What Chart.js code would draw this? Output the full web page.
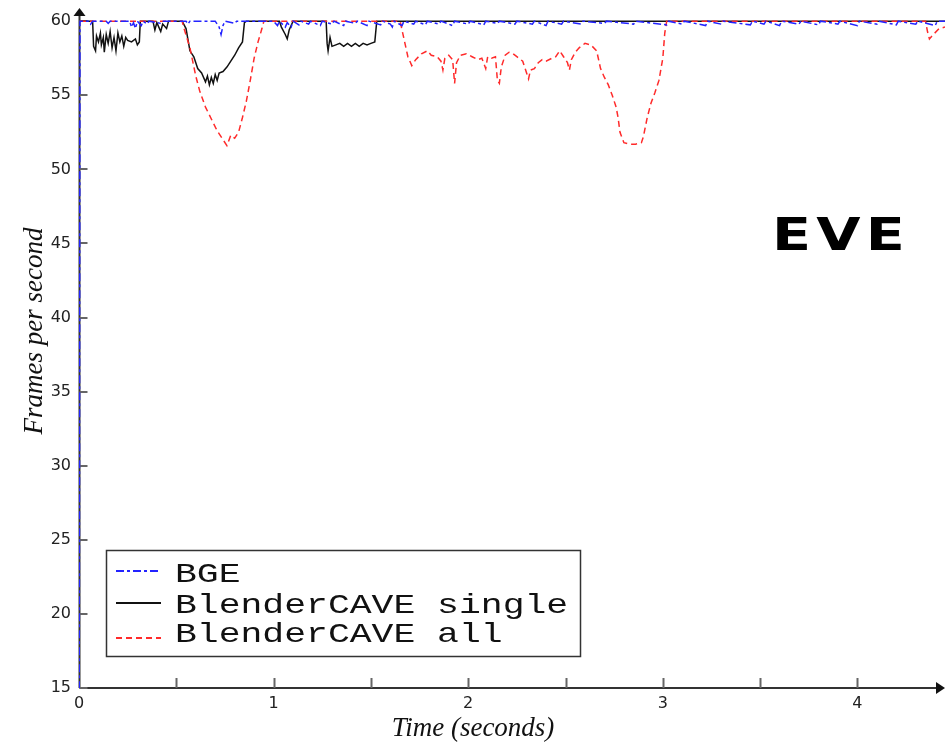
<!DOCTYPE html>
<html>
<head>
<meta charset="utf-8">
<script src="https://cdn.jsdelivr.net/npm/chart.js@4"></script>
<style>
  html, body { margin: 0; padding: 0; background: #fff; }
  #wrap { position: relative; width: 945px; height: 744px; }
</style>
</head>
<body>
<div id="wrap"><canvas id="myChart" width="945" height="744"></canvas></div>
<script>
// Frame rate over time, [seconds, fps]
const bgeData = [
  [0, 0], [0.005, 60], [0.05, 60], [0.06, 59.8], [0.07, 60], [0.14, 60], [0.15, 59.85], [0.16, 60],
  [0.26, 60], [0.27, 59.6], [0.28, 59.9], [0.29, 59.5], [0.30, 60], [0.32, 59.7], [0.33, 60],
  [0.35, 59.8], [0.36, 60], [0.42, 59.85], [0.43, 60], [0.55, 60], [0.56, 59.8], [0.57, 60],
  [0.70, 60], [0.72, 59.6], [0.73, 59.1], [0.74, 59.7], [0.75, 60], [0.80, 59.85], [0.81, 60],
  [1.00, 60], [1.02, 59.7], [1.03, 60], [1.06, 59.6], [1.07, 59.9], [1.09, 59.6], [1.10, 60],
  [1.13, 59.75], [1.14, 60], [1.18, 59.8], [1.19, 60], [1.24, 59.7], [1.25, 60], [1.30, 59.8],
  [1.31, 60], [1.36, 59.7], [1.37, 60], [1.42, 59.85], [1.43, 60], [1.48, 59.7], [1.49, 60],
  [1.55, 59.75], [1.56, 60], [1.60, 59.8], [1.61, 59.6], [1.62, 60], [1.66, 59.7], [1.67, 60],
  [1.72, 59.8], [1.73, 60], [1.78, 59.75], [1.79, 60], [1.85, 59.8], [1.86, 60], [1.92, 59.7],
  [1.93, 60], [2.00, 59.8], [2.01, 60], [2.08, 59.75], [2.09, 60], [2.15, 59.85], [2.16, 60],
  [2.24, 59.8], [2.25, 60], [2.33, 59.8], [2.34, 60], [2.40, 59.7], [2.41, 60], [2.48, 59.8],
  [2.49, 60], [2.58, 59.8], [2.59, 60], [2.70, 59.85], [2.71, 60], [2.85, 59.8], [2.86, 60],
  [3.02, 59.75], [3.03, 60], [3.10, 59.8], [3.11, 60], [3.22, 59.7], [3.23, 60], [3.30, 59.8],
  [3.31, 60], [3.45, 59.75], [3.46, 60], [3.52, 59.8], [3.53, 60], [3.60, 59.7], [3.61, 60],
  [3.70, 59.8], [3.71, 60], [3.80, 59.75], [3.81, 60], [3.90, 59.8], [3.91, 60], [4.00, 59.7],
  [4.01, 60], [4.10, 59.8], [4.11, 60], [4.20, 59.75], [4.21, 60], [4.30, 59.8], [4.31, 60],
  [4.40, 59.7], [4.41, 60], [4.45, 60]
];

const singleData = [
  [0.005, 60], [0.07, 60], [0.075, 58.3], [0.085, 58.0], [0.09, 59.0], [0.10, 58.6],
  [0.11, 59.2], [0.115, 58.4], [0.125, 58.9], [0.13, 57.9], [0.14, 59.1], [0.15, 58.5],
  [0.16, 59.3], [0.17, 58.2], [0.18, 58.9], [0.19, 58.0], [0.20, 59.2], [0.21, 58.6],
  [0.22, 59.0], [0.23, 58.3], [0.24, 58.9], [0.25, 58.7], [0.27, 58.6], [0.29, 58.8],
  [0.30, 58.4], [0.31, 58.6], [0.315, 60], [0.38, 60], [0.39, 59.4], [0.40, 59.9], [0.42, 59.3],
  [0.43, 59.8], [0.45, 59.5], [0.46, 60], [0.53, 60], [0.55, 59.5], [0.57, 58.0], [0.59, 57.6],
  [0.61, 56.8], [0.63, 56.5], [0.65, 55.9], [0.66, 56.3], [0.67, 55.7], [0.68, 56.2],
  [0.69, 55.8], [0.70, 56.4], [0.71, 56.0], [0.72, 56.5], [0.74, 56.6], [0.76, 56.9],
  [0.78, 57.3], [0.80, 57.7], [0.82, 58.2], [0.84, 58.6], [0.85, 59.9], [0.86, 60],
  [1.03, 60], [1.04, 59.6], [1.06, 59.1], [1.07, 58.8], [1.08, 59.4], [1.10, 60],
  [1.27, 60], [1.275, 58.5], [1.28, 58.0], [1.29, 58.9], [1.30, 58.3], [1.32, 58.4],
  [1.34, 58.5], [1.36, 58.3], [1.38, 58.5], [1.40, 58.3], [1.42, 58.5], [1.44, 58.3],
  [1.46, 58.5], [1.48, 58.4], [1.50, 58.5], [1.52, 58.6], [1.53, 60], [4.45, 60]
];

const allData = [
  [0.005, 60], [0.53, 60], [0.54, 59.5], [0.57, 58.2], [0.60, 56.3], [0.62, 55.3],
  [0.65, 54.2], [0.68, 53.4], [0.71, 52.6], [0.74, 52.0], [0.76, 51.6], [0.78, 52.3],
  [0.80, 52.1], [0.82, 52.5], [0.84, 53.5], [0.86, 54.6], [0.88, 56.0], [0.90, 57.5],
  [0.92, 58.6], [0.94, 59.5], [0.95, 60], [1.65, 60], [1.67, 58.8], [1.69, 57.6], [1.71, 57.0],
  [1.73, 57.4], [1.76, 57.8], [1.79, 58.0], [1.81, 57.7], [1.84, 57.6], [1.86, 57.3],
  [1.87, 56.7], [1.88, 57.5], [1.90, 57.7], [1.92, 57.4], [1.93, 55.8], [1.94, 57.2],
  [1.96, 57.7], [1.99, 57.8], [2.02, 57.6], [2.05, 57.4], [2.07, 57.5], [2.09, 56.8],
  [2.10, 57.6], [2.12, 57.5], [2.14, 57.6], [2.15, 56.0], [2.16, 55.8], [2.17, 56.9],
  [2.19, 57.7], [2.21, 57.9], [2.23, 57.8], [2.25, 57.6], [2.28, 57.3], [2.30, 56.5],
  [2.31, 56.1], [2.32, 56.7], [2.34, 56.8], [2.36, 57.2], [2.38, 57.4], [2.40, 57.3],
  [2.43, 57.5], [2.45, 57.6], [2.47, 58.0], [2.49, 57.6], [2.51, 57.2], [2.52, 56.7],
  [2.53, 57.4], [2.55, 57.9], [2.57, 58.2], [2.60, 58.5], [2.63, 58.4], [2.66, 58.0],
  [2.68, 56.8], [2.70, 56.2], [2.72, 55.7], [2.74, 55.0], [2.76, 54.2], [2.77, 53.5],
  [2.78, 52.5], [2.80, 51.8], [2.83, 51.7], [2.86, 51.7], [2.89, 51.8], [2.90, 52.2],
  [2.92, 53.5], [2.94, 54.5], [2.96, 55.2], [2.98, 56.0], [3.00, 57.5], [3.01, 59.2],
  [3.02, 60], [4.35, 60], [4.36, 59.3], [4.37, 58.8], [4.39, 59.1], [4.42, 59.5], [4.45, 59.6]
];

const seriesLabels = ['BGE', 'BlenderCAVE single', 'BlenderCAVE all'];
const xTicks = [0, 0.5, 1, 1.5, 2, 2.5, 3, 3.5, 4];
const yTicks = [15, 20, 25, 30, 35, 40, 45, 50, 55, 60];

function toPoints(arr) {
  return arr.map(p => ({ x: p[0], y: p[1] }));
}

// axes with inward ticks and arrow heads, drawn under the lines
const axesPlugin = {
  id: 'axes',
  beforeDatasetsDraw(chart) {
    const ctx = chart.ctx;
    const ca = chart.chartArea;
    const xs = chart.scales.x;
    const ys = chart.scales.y;
    const ax = ca.left + 0.5;
    const ay = ca.bottom;
    ctx.save();
    ctx.strokeStyle = '#333';
    ctx.fillStyle = '#111';
    ctx.lineWidth = 2;
    ctx.beginPath();
    ctx.moveTo(ax, ay);
    ctx.lineTo(ax, 14);
    ctx.moveTo(ax, ay);
    ctx.lineTo(938, ay);
    ctx.stroke();
    ctx.beginPath();
    ctx.moveTo(ax, 8);
    ctx.lineTo(ax - 6, 16);
    ctx.lineTo(ax + 6, 16);
    ctx.closePath();
    ctx.fill();
    ctx.beginPath();
    ctx.moveTo(945, ay);
    ctx.lineTo(936, ay - 6);
    ctx.lineTo(936, ay + 6);
    ctx.closePath();
    ctx.fill();
    ctx.strokeStyle = '#666';
    ctx.beginPath();
    xTicks.forEach(v => {
      const px = Math.round(xs.getPixelForValue(v)) + 0.5;
      if (v > 0) { ctx.moveTo(px, ay); ctx.lineTo(px, ay - 10); }
    });
    yTicks.forEach(v => {
      const py = Math.round(ys.getPixelForValue(v));
      ctx.moveTo(ax, py); ctx.lineTo(ax + 8, py);
    });
    ctx.stroke();
    ctx.restore();
  },
  afterDraw(chart) {
    const ctx = chart.ctx;
    ctx.save();
    // axis titles
    ctx.fillStyle = '#111';
    ctx.font = 'italic 27px "Liberation Serif"';
    ctx.textAlign = 'center';
    ctx.textBaseline = 'alphabetic';
    ctx.fillText('Time (seconds)', 473, 736);
    ctx.translate(42, 331);
    ctx.rotate(-Math.PI / 2);
    ctx.fillText('Frames per second', 0, 0);
    ctx.restore();

    // EVE label
    ctx.save();
    ctx.fillStyle = '#000';
    ctx.font = 'bold 44px "DejaVu Sans"';
    ctx.translate(772, 250);
    ctx.scale(1.3, 1);
    ctx.letterSpacing = '4px';
    ctx.fillText('EVE', 0, 0);
    ctx.restore();

    // legend box
    ctx.save();
    ctx.fillStyle = '#fff';
    ctx.fillRect(106, 550, 475, 107);
    ctx.strokeStyle = '#333';
    ctx.lineWidth = 1.5;
    ctx.strokeRect(106.5, 550.5, 474, 106);
    const rowsLine = [571, 603, 638];
    const rowsText = [582, 613, 642];
    chart.data.datasets.forEach((ds, i) => {
      ctx.strokeStyle = ds.borderColor;
      ctx.lineWidth = 2.2;
      ctx.setLineDash(ds.borderDash || []);
      ctx.beginPath();
      ctx.moveTo(116, rowsLine[i]);
      ctx.lineTo(161, rowsLine[i]);
      ctx.stroke();
      ctx.setLineDash([]);
      ctx.save();
      ctx.fillStyle = '#111';
      ctx.font = '28px "Liberation Mono"';
      ctx.translate(175, rowsText[i]);
      ctx.scale(1.3, 1);
      ctx.fillText(ds.label, 0, 0);
      ctx.restore();
    });
    ctx.restore();
  }
};

const ctx = document.getElementById('myChart').getContext('2d');
const myChart = new Chart(ctx, {
  type: 'line',
  data: {
    datasets: [
      {
        label: seriesLabels[0],
        data: toPoints(bgeData),
        borderColor: '#2323ff',
        borderDash: [8, 3, 3, 3],
        borderWidth: 1.5,
        order: 0
      },
      {
        label: seriesLabels[1],
        data: toPoints(singleData),
        borderColor: '#111111',
        borderWidth: 1.5,
        order: 2
      },
      {
        label: seriesLabels[2],
        data: toPoints(allData),
        borderColor: '#ff2a2a',
        borderDash: [6, 4],
        borderWidth: 1.5,
        order: 1
      }
    ]
  },
  options: {
    responsive: false,
    animation: false,
    layout: { padding: 0 },
    elements: { point: { radius: 0 }, line: { tension: 0 } },
    plugins: {
      legend: { display: false },
      tooltip: { enabled: false }
    },
    scales: {
      x: {
        type: 'linear',
        min: 0,
        max: 4.45,
        grid: { display: false, drawTicks: false },
        border: { display: false },
        afterBuildTicks: s => { s.ticks = xTicks.map(v => ({ value: v })); },
        afterFit: s => { s.height = 56; },
        ticks: {
          padding: 6,
          maxRotation: 0,
          autoSkip: false,
          color: '#222',
          font: { family: 'DejaVu Sans', size: 16 },
          callback: v => (Number.isInteger(v) ? String(v) : '')
        }
      },
      y: {
        type: 'linear',
        min: 15,
        max: 60.24,
        grid: { display: false, drawTicks: false },
        border: { display: false },
        afterBuildTicks: s => { s.ticks = yTicks.map(v => ({ value: v })); },
        afterFit: s => { s.width = 79; },
        ticks: {
          padding: 8,
          autoSkip: false,
          color: '#222',
          font: { family: 'DejaVu Sans', size: 16 }
        }
      }
    }
  },
  plugins: [axesPlugin]
});
</script>
</body>
</html>
